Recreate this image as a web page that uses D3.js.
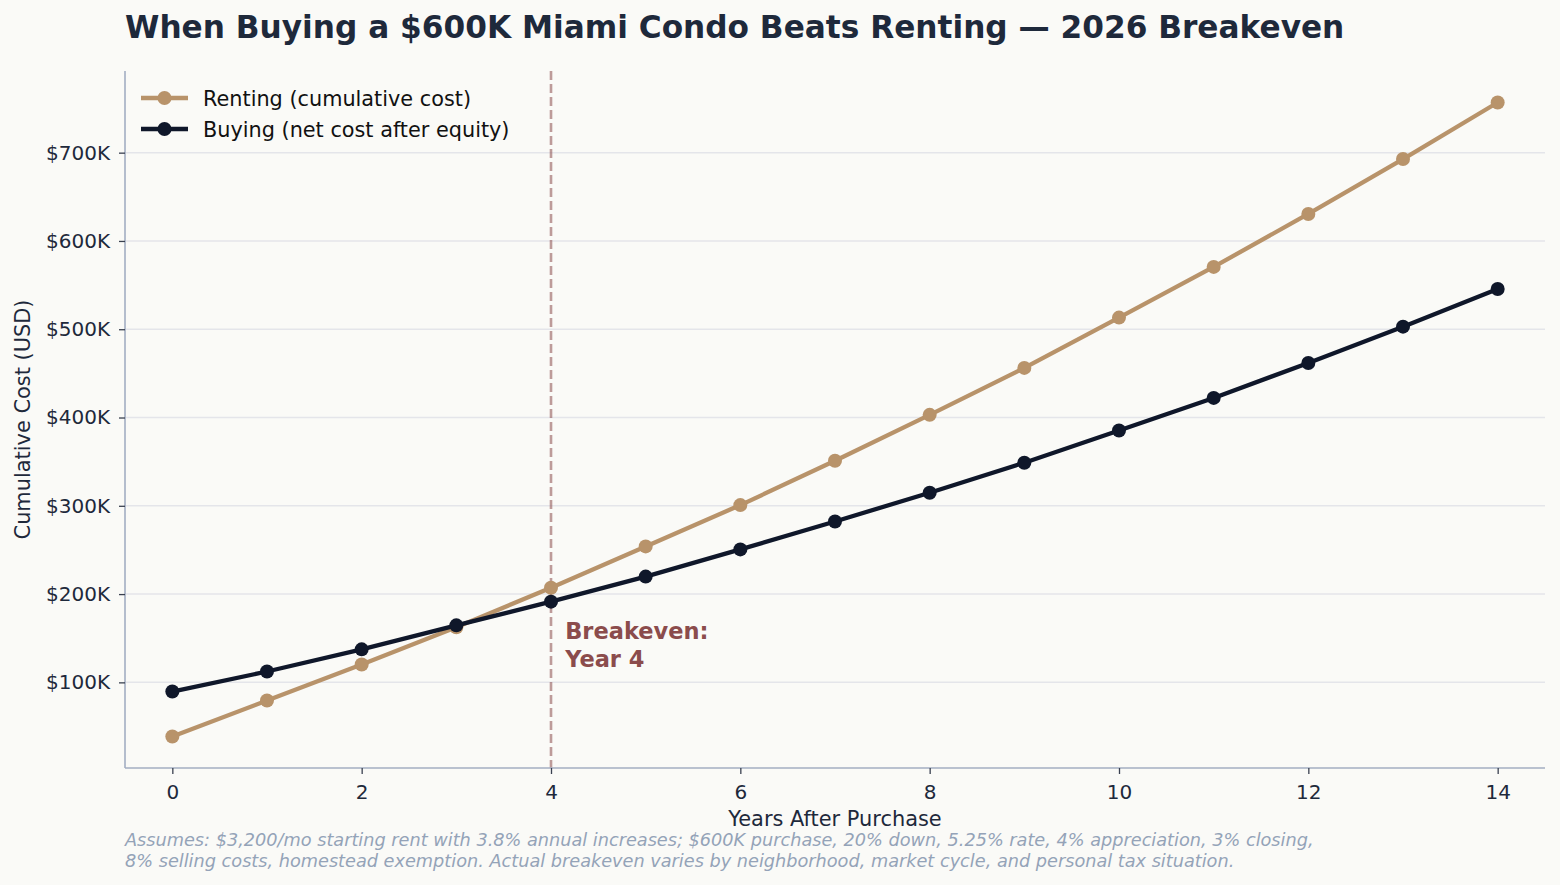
<!DOCTYPE html>
<html>
<head>
<meta charset="utf-8">
<script src="https://cdn.jsdelivr.net/npm/d3@7"></script>
<style>
  html, body { margin: 0; padding: 0; background: #fafaf7; }
  svg { display: block; font-family: "DejaVu Sans", sans-serif; }
</style>
</head>
<body>
<div id="chart"></div>
<script>
// values, in thousands of USD
const years = [0, 1, 2, 3, 4, 5, 6, 7, 8, 9, 10, 11, 12, 13, 14];
const rentCost = [38.6, 79.4, 120.3, 162.4, 207.2, 254.0, 300.8, 351.0, 403.0, 456.2, 513.2, 570.6, 630.6, 692.8, 756.8];
const buyCost = [89.6, 112.3, 137.4, 164.6, 191.4, 219.8, 250.6, 282.2, 314.8, 348.8, 385.3, 422.2, 461.8, 502.9, 545.6];
const xTicks = [0, 2, 4, 6, 8, 10, 12, 14];
const yTicks = [100, 200, 300, 400, 500, 600, 700];
const seriesNames = ['Renting (cumulative cost)', 'Buying (net cost after equity)'];
const breakevenYear = 4;

const width = 1560, height = 885;
const margin = { top: 71, right: 15, bottom: 117, left: 125 };
const colors = { rent: '#b8936a', buy: '#0f172a', ink: '#1e293b', spine: '#a3aec2', grid: '#e4e5ea', mark: '#8b4c4c' };

const svg = d3.select('#chart').append('svg')
  .attr('width', width)
  .attr('height', height);

svg.append('rect').attr('width', width).attr('height', height).attr('fill', '#fafaf7');

const x = d3.scaleLinear().domain([-0.5, 14.5]).range([margin.left, width - margin.right]);
const y = d3.scaleLinear().domain([3, 792.5]).range([height - margin.bottom, margin.top]);

// gridlines (horizontal only)
svg.append('g').attr('class', 'grid')
  .selectAll('line')
  .data(yTicks)
  .join('line')
  .attr('x1', x.range()[0]).attr('x2', x.range()[1])
  .attr('y1', d => y(d)).attr('y2', d => y(d))
  .attr('stroke', colors.grid)
  .attr('stroke-width', 1.5);

// breakeven marker
svg.append('line')
  .attr('x1', x(breakevenYear)).attr('x2', x(breakevenYear))
  .attr('y1', y.range()[1]).attr('y2', y.range()[0])
  .attr('stroke', colors.mark)
  .attr('stroke-opacity', 0.55)
  .attr('stroke-width', 2.6)
  .attr('stroke-dasharray', '9,4');

// axes
const xAxis = svg.append('g')
  .attr('transform', `translate(0,${height - margin.bottom})`)
  .call(d3.axisBottom(x).tickValues(xTicks).tickSize(6).tickPadding(11).tickSizeOuter(0));

const yAxis = svg.append('g')
  .attr('transform', `translate(${margin.left},0)`)
  .call(d3.axisLeft(y).tickValues(yTicks).tickSize(6).tickPadding(9).tickSizeOuter(0)
    .tickFormat(d => '$' + d + 'K'));

[xAxis, yAxis].forEach(g => {
  g.select('.domain').attr('stroke', colors.spine).attr('stroke-width', 1.6);
  g.selectAll('.tick line').attr('stroke', '#3a4150').attr('stroke-width', 1.3);
  g.selectAll('.tick text')
    .attr('fill', colors.ink)
    .attr('font-size', 20)
    .attr('font-family', '"DejaVu Sans", sans-serif');
});
// trim the spines to the plot box
xAxis.select('.domain').attr('d', `M${x.range()[0]},0H${x.range()[1]}`);
yAxis.select('.domain').attr('d', `M0,${y.range()[0]}V${y.range()[1]}`);

// lines + markers
const line = d3.line().x((d, i) => x(years[i])).y(d => y(d));

const series = [
  { key: 'rent', values: rentCost, color: colors.rent },
  { key: 'buy', values: buyCost, color: colors.buy }
];

series.forEach(s => {
  const g = svg.append('g').attr('class', 'series-' + s.key);
  g.append('path')
    .datum(s.values)
    .attr('fill', 'none')
    .attr('stroke', s.color)
    .attr('stroke-width', 4.3)
    .attr('stroke-linejoin', 'round')
    .attr('d', line);
  g.selectAll('circle')
    .data(s.values)
    .join('circle')
    .attr('cx', (d, i) => x(years[i]))
    .attr('cy', d => y(d))
    .attr('r', 7)
    .attr('fill', s.color);
});

// annotation
const noteX = x(breakevenYear + 0.15);
const note = svg.append('text')
  .attr('x', noteX)
  .attr('y', 639)
  .attr('fill', colors.mark)
  .attr('font-size', 22.5)
  .attr('font-weight', 'bold');
note.append('tspan').attr('x', noteX).text('Breakeven:');
note.append('tspan').attr('x', noteX).attr('dy', 27.5).text('Year 4');

// legend
const legend = svg.append('g').attr('transform', 'translate(141,98)');
series.forEach((s, i) => {
  const row = legend.append('g').attr('transform', `translate(0,${i * 31})`);
  row.append('line').attr('x1', 0).attr('x2', 47).attr('stroke', s.color).attr('stroke-width', 4.3);
  row.append('circle').attr('cx', 23.5).attr('r', 7).attr('fill', s.color);
  row.append('text')
    .attr('x', 62)
    .attr('dy', '0.36em')
    .attr('fill', '#111')
    .attr('font-size', 20.8)
    .text(seriesNames[i]);
});

// title + axis labels
svg.append('text')
  .attr('x', margin.left).attr('y', 38)
  .attr('fill', colors.ink)
  .attr('font-size', 31.2)
  .attr('font-weight', 'bold')
  .text('When Buying a $600K Miami Condo Beats Renting — 2026 Breakeven');

svg.append('text')
  .attr('x', (x.range()[0] + x.range()[1]) / 2).attr('y', 826)
  .attr('text-anchor', 'middle')
  .attr('fill', colors.ink)
  .attr('font-size', 20.9)
  .text('Years After Purchase');

svg.append('text')
  .attr('transform', `translate(30,${(y.range()[0] + y.range()[1]) / 2}) rotate(-90)`)
  .attr('text-anchor', 'middle')
  .attr('fill', colors.ink)
  .attr('font-size', 20.9)
  .text('Cumulative Cost (USD)');

// footnote
const foot = svg.append('text')
  .attr('x', margin.left).attr('y', 846)
  .attr('fill', '#94a3b8')
  .attr('font-size', 17.7)
  .attr('font-style', 'italic');
foot.append('tspan').attr('x', margin.left)
  .text('Assumes: $3,200/mo starting rent with 3.8% annual increases; $600K purchase, 20% down, 5.25% rate, 4% appreciation, 3% closing,');
foot.append('tspan').attr('x', margin.left).attr('dy', 20.5)
  .text('8% selling costs, homestead exemption. Actual breakeven varies by neighborhood, market cycle, and personal tax situation.');
</script>
</body>
</html>
